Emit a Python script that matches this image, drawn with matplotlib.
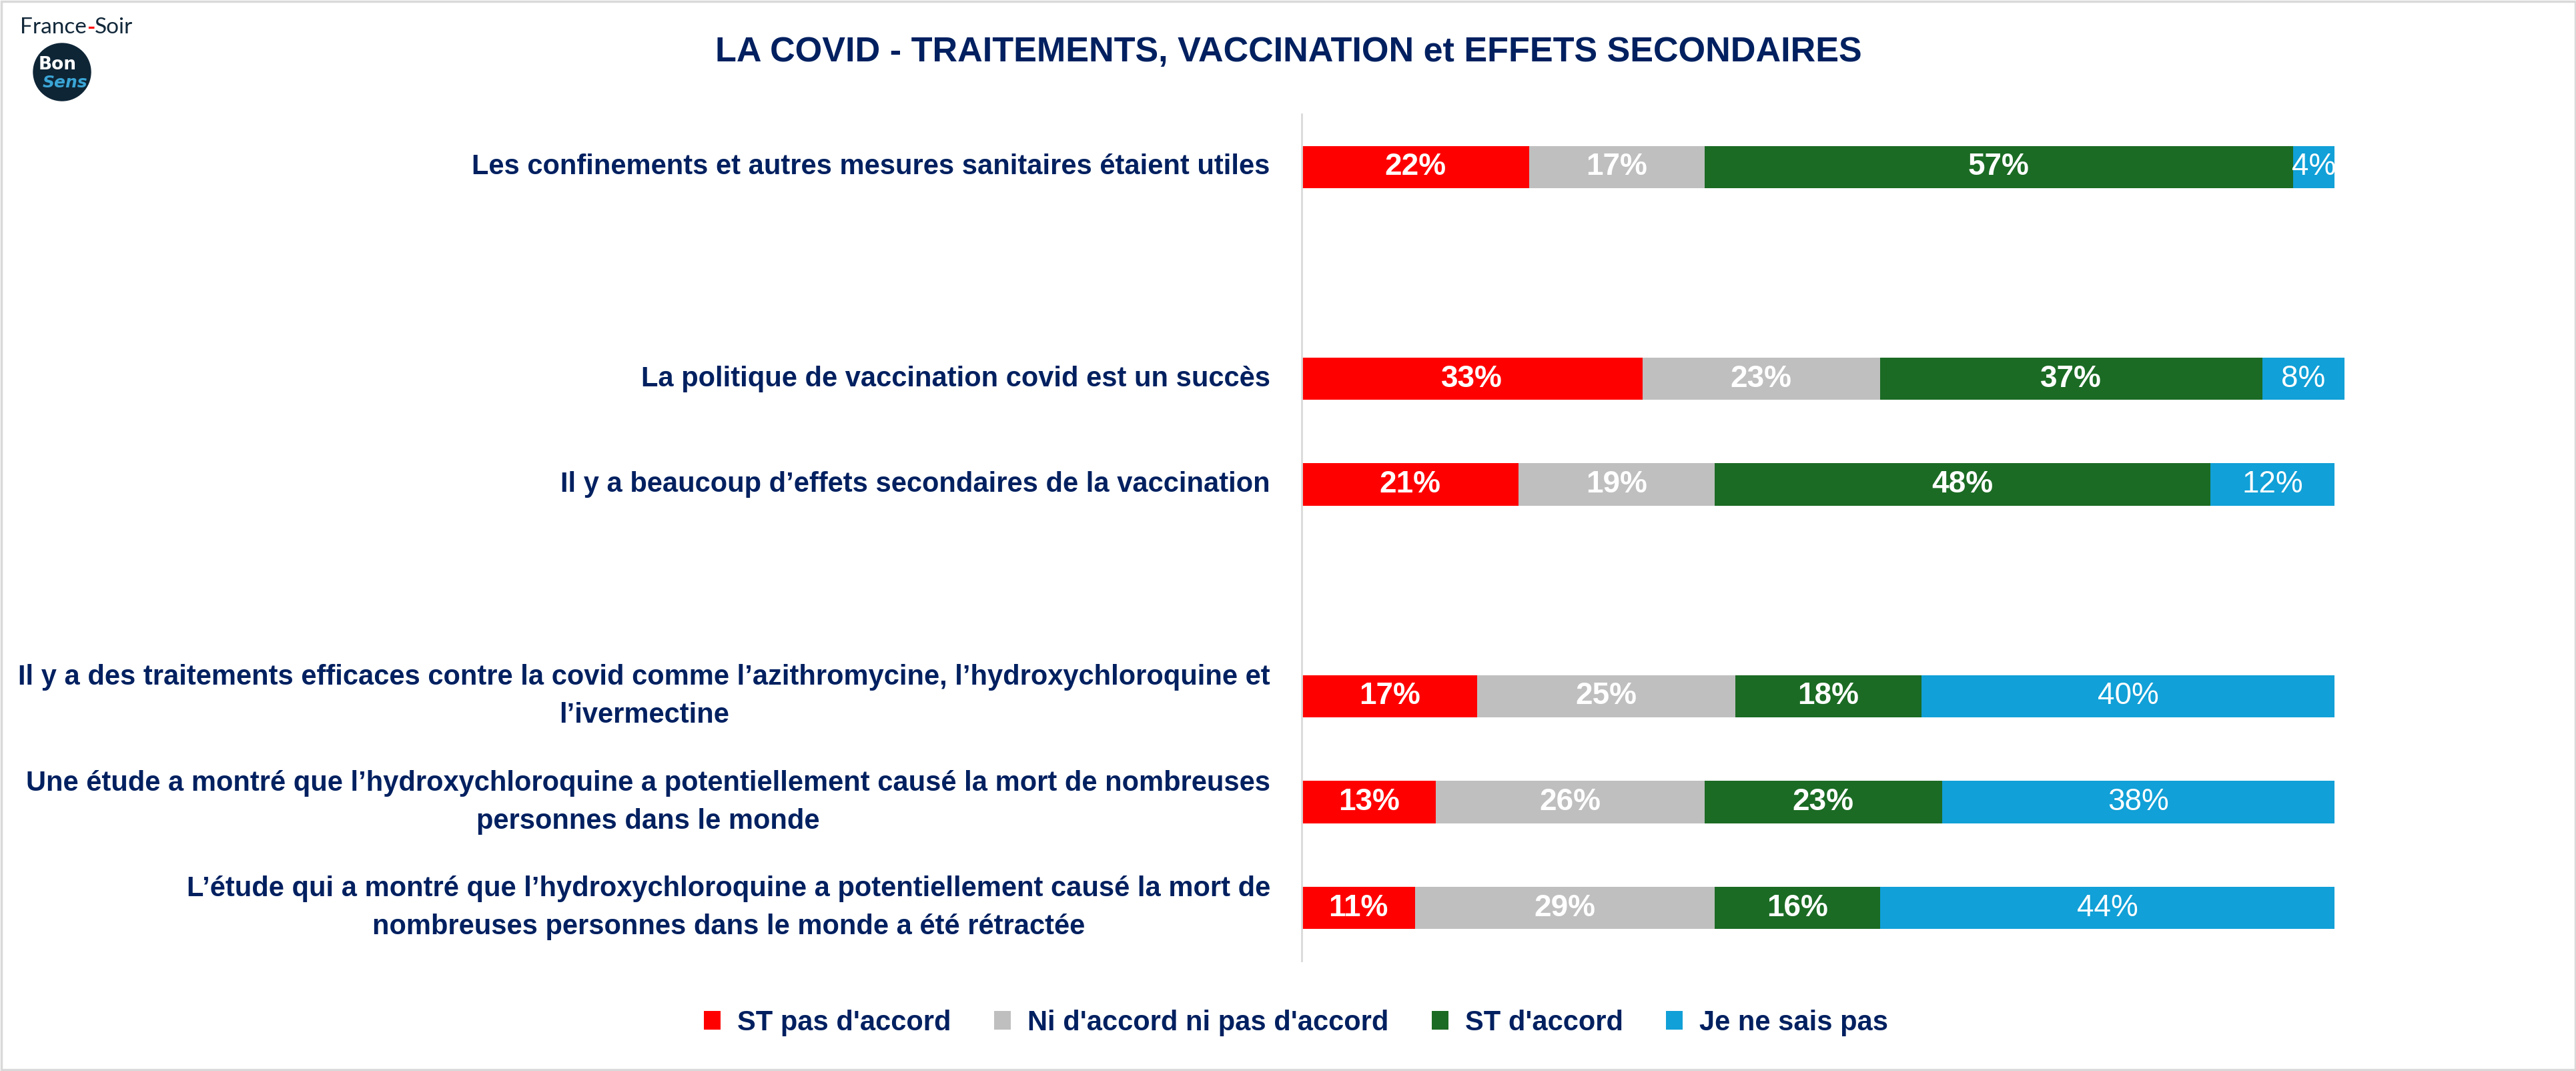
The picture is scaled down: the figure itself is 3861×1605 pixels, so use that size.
import matplotlib.pyplot as plt
from matplotlib.patches import Patch, Circle, Rectangle

# --- data -------------------------------------------------------------
STATEMENTS = [
    "Les confinements et autres mesures sanitaires étaient utiles",
    "La politique de vaccination covid est un succès",
    "Il y a beaucoup d\u2019effets secondaires de la vaccination",
    "Il y a des traitements efficaces contre la covid comme l\u2019azithromycine, l\u2019hydroxychloroquine et\nl\u2019ivermectine",
    "Une étude a montré que l\u2019hydroxychloroquine a potentiellement causé la mort de nombreuses\npersonnes dans le monde",
    "L\u2019étude qui a montré que l\u2019hydroxychloroquine a potentiellement causé la mort de\nnombreuses personnes dans le monde a été rétractée",
]
GROUP_SIZES = [1, 2, 3]  # statements are shown in three themed blocks

SERIES = ["ST pas d'accord", "Ni d'accord ni pas d'accord", "ST d'accord", "Je ne sais pas"]
PAS_ACCORD = [22, 33, 21, 17, 13, 11]
NI_NI = [17, 23, 19, 25, 26, 29]
ACCORD = [57, 37, 48, 18, 23, 16]
NSP = [4, 8, 12, 40, 38, 44]

TITLE = "LA COVID - TRAITEMENTS, VACCINATION et EFFETS SECONDAIRES"

COLORS = ["#FF0000", "#BFBFBF", "#1B6B24", "#11A0D7"]
WEIGHTS = ["bold", "bold", "bold", "normal"]
NAVY = "#002060"
FONT = ["Liberation Sans Narrow", "Liberation Sans", "DejaVu Sans"]

plt.rcParams["font.family"] = FONT

# y slots: one empty slot between blocks
positions = []
slot = 0
for size in GROUP_SIZES:
    for _ in range(size):
        positions.append(slot)
        slot += 1
    slot += 1
n_slots = slot - 1

W, H = 3862, 1605
fig = plt.figure(figsize=(W / 100, H / 100), dpi=100)

# axes placed to match the reference pixel layout
ax_left, ax_right = 1951 / W, (1951 + 1548 * 1.1) / W
ax_top, ax_bottom = 1 - 171 / H, 1 - 1440 / H
ax = fig.add_axes([ax_left, ax_bottom, ax_right - ax_left, ax_top - ax_bottom])

values = [PAS_ACCORD, NI_NI, ACCORD, NSP]
lefts = [0] * len(STATEMENTS)
for vals, color, weight, name in zip(values, COLORS, WEIGHTS, SERIES):
    bars = ax.barh(positions, vals, left=lefts, height=0.4, color=color,
                   edgecolor="none", label=name)
    for rect, v in zip(bars, vals):
        ax.text(rect.get_x() + rect.get_width() / 2, rect.get_y() + rect.get_height() / 2,
                f"{v}%", ha="center", va="center", color="white",
                fontsize=33, fontweight=weight)
    lefts = [l + v for l, v in zip(lefts, vals)]

ax.set_xlim(0, 110)
ax.set_ylim(n_slots - 0.5, -0.5)
ax.set_xticks([])
ax.set_yticks(positions, STATEMENTS)
ax.tick_params(axis="y", length=0, pad=34, labelsize=30, labelcolor=NAVY)
for lbl in ax.get_yticklabels():
    lbl.set_fontweight("bold")
    lbl.set_multialignment("center")
    lbl.set_linespacing(1.55)
    lbl.set_verticalalignment("center")
for side in ["top", "right", "bottom"]:
    ax.spines[side].set_visible(False)
ax.spines["left"].set_color("#D9D9D9")
ax.spines["left"].set_linewidth(2)

fig.text(0.5, 1 - 78 / H, TITLE, ha="center", va="center", color=NAVY,
         fontsize=37.5, fontweight="bold")

handles = [Patch(facecolor=c, edgecolor="none") for c in COLORS]
leg = fig.legend(handles, SERIES, loc="center", bbox_to_anchor=(0.503, 1 - 1533 / H),
                 ncol=4, frameon=False, fontsize=30, handlelength=0.6, handleheight=0.65,
                 handletextpad=0.6, columnspacing=1.55)
for t in leg.get_texts():
    t.set_color(NAVY)
    t.set_fontweight("bold")

# France-Soir / BonSens logo
over = fig.add_axes([0, 0, 1, 1], facecolor="none")
over.set_xlim(0, W)
over.set_ylim(H, 0)
over.axis("off")
logo_font = ["Lato", "DejaVu Sans"]
t1 = over.text(30, 50, "France", fontsize=24, color="#12283a", family=logo_font,
               va="baseline")
t2 = over.annotate("-", xy=(1, 0), xycoords=t1, fontsize=24, color="#FF0000",
                   family=logo_font, fontweight="bold", va="bottom")
over.annotate("Soir", xy=(1, 0), xycoords=t2, fontsize=24, color="#12283a",
              family=logo_font, va="bottom")
over.add_patch(Circle((93, 108), 43, color="#0E2536"))
over.text(86, 97, "Bon", ha="center", va="center", color="white", fontsize=19,
          fontweight="bold", family=["DejaVu Sans"])
over.text(97, 124, "Sens", ha="center", va="center", color="#3AA5D6", fontsize=18,
          style="italic", fontweight="bold", family=["DejaVu Sans"])

# light grey frame around the picture
fig.add_artist(Rectangle((0.0005, 0.001), 0.999, 0.998, transform=fig.transFigure,
                         fill=False, edgecolor="#D9D9D9", linewidth=2.5))

fig.savefig("out.png", dpi=100, facecolor="white")
